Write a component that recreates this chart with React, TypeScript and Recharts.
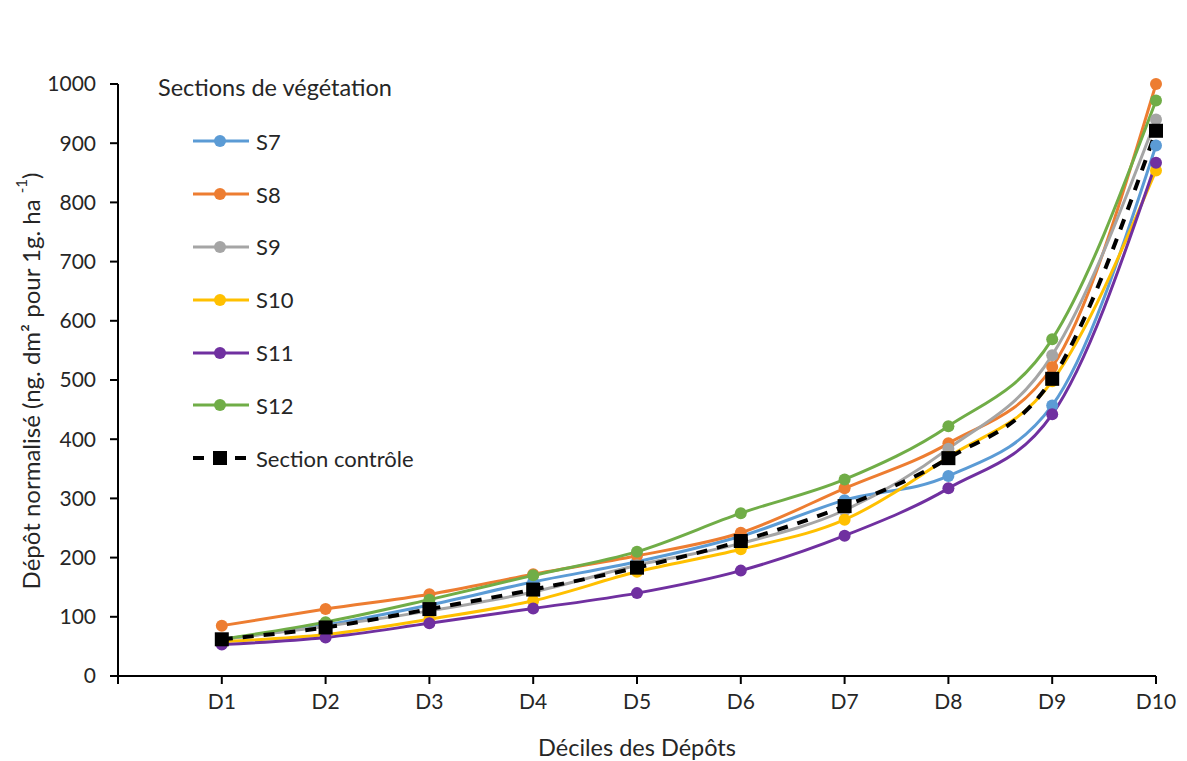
import React from "react";
import { LineChart, Line, XAxis, YAxis, Legend } from "recharts";

const deciles = ["D1", "D2", "D3", "D4", "D5", "D6", "D7", "D8", "D9", "D10"];

const s7 = [62, 86, 120, 159, 193, 236, 297, 338, 457, 896];
const s8 = [85, 113, 138, 172, 203, 242, 317, 393, 522, 1000];
const s9 = [62, 84, 110, 142, 187, 224, 280, 384, 542, 940];
const s10 = [58, 70, 96, 127, 176, 214, 264, 370, 498, 854];
const s11 = [53, 65, 89, 114, 140, 178, 237, 317, 442, 867];
const s12 = [62, 91, 129, 170, 210, 275, 332, 422, 569, 972];
const controle = [62, 82, 113, 146, 183, 228, 287, 368, 502, 921];

const yTicks = [0, 100, 200, 300, 400, 500, 600, 700, 800, 900, 1000];

const series = [
  { key: "S7", values: s7, color: "#5B9BD5" },
  { key: "S8", values: s8, color: "#ED7D31" },
  { key: "S9", values: s9, color: "#A5A5A5" },
  { key: "S10", values: s10, color: "#FFC000" },
  { key: "S11", values: s11, color: "#7030A0" },
  { key: "S12", values: s12, color: "#70AD47" },
];

const data = deciles.map((d, i) => {
  const row: Record<string, number | string> = { x: i + 1, name: d };
  series.forEach((s) => (row[s.key] = s.values[i]));
  row["Section contrôle"] = controle[i];
  return row;
});

const FONT = "Lato, 'Open Sans', sans-serif";
const TEXT = "#262626";

const SquareDot = (props: any) => {
  const { cx, cy } = props;
  if (cx == null || cy == null) return null;
  return <rect x={cx - 7} y={cy - 7} width={14} height={14} fill="#000" />;
};

const ROW = 52.8;

const LegendBox = () => (
  <div style={{ fontFamily: FONT, fontSize: 22, color: TEXT, width: 320 }}>
    <div style={{ height: 36, lineHeight: "36px", fontSize: 23.5 }}>Sections de végétation</div>
    <div style={{ height: 10 }} />
    {series.map((s) => (
      <div key={s.key} style={{ display: "flex", alignItems: "center", height: ROW }}>
        <svg width={100} height={20} style={{ overflow: "visible" }}>
          <line x1={35} x2={91} y1={10} y2={10} stroke={s.color} strokeWidth={3} />
          <circle cx={62} cy={10} r={6} fill={s.color} />
        </svg>
        <span style={{ marginLeft: -2 }}>{s.key}</span>
      </div>
    ))}
    <div style={{ display: "flex", alignItems: "center", height: ROW }}>
      <svg width={100} height={20} style={{ overflow: "visible" }}>
        <line x1={35} x2={91} y1={10} y2={10} stroke="#000" strokeWidth={4} strokeDasharray="11 10" />
        <rect x={55} y={3} width={14} height={14} fill="#000" />
      </svg>
      <span style={{ marginLeft: -2 }}>Section contrôle</span>
    </div>
  </div>
);

const YLabel = () => (
  <text
    x={30}
    y={381}
    transform="rotate(-90 30 381)"
    textAnchor="middle"
    dominantBaseline="central"
    fontFamily={FONT}
    fontSize={24}
    fill={TEXT}
  >
    <tspan>Dépôt normalisé (ng. dm² pour 1g. ha </tspan>
    <tspan fontSize={15} dy={-9}>-1</tspan>
    <tspan dy={9}>)</tspan>
  </text>
);

const XLabel = () => (
  <text
    x={637}
    y={747}
    textAnchor="middle"
    dominantBaseline="central"
    fontFamily={FONT}
    fontSize={23.5}
    fill={TEXT}
  >
    Déciles des Dépôts
  </text>
);

export default function App() {
  return (
    <div style={{ position: "absolute", left: 0, top: 0, background: "#fff" }}>
      <LineChart
        width={1187}
        height={761}
        data={data}
        margin={{ top: 84, right: 31, left: 38, bottom: 40 }}
      >
        <XAxis
          dataKey="x"
          type="number"
          domain={[0, 10]}
          ticks={[0, 1, 2, 3, 4, 5, 6, 7, 8, 9, 10]}
          tickFormatter={(v) => (v === 0 ? "" : deciles[v - 1])}
          interval={0}
          height={45}
          tickSize={8}
          tickMargin={10}
          axisLine={{ stroke: "#000", strokeWidth: 2 }}
          tickLine={{ stroke: "#000", strokeWidth: 2 }}
          tick={{ fill: TEXT, fontSize: 21, fontFamily: FONT }}
          label={{ content: XLabel }}
        />
        <YAxis
          domain={[0, 1000]}
          ticks={yTicks}
          interval={0}
          width={80}
          tickSize={8}
          tickMargin={14}
          axisLine={{ stroke: "#000", strokeWidth: 2 }}
          tickLine={{ stroke: "#000", strokeWidth: 2 }}
          tick={{ fill: TEXT, fontSize: 21, fontFamily: FONT }}
          label={{ content: YLabel }}
        />
        <Legend
          layout="vertical"
          align="center"
          verticalAlign="middle"
          content={() => <LegendBox />}
          wrapperStyle={{ top: 69, left: 158, width: 320 }}
        />
        {series.map((s) => (
          <Line
            key={s.key}
            type="monotone"
            dataKey={s.key}
            stroke={s.color}
            strokeWidth={3}
            dot={{ r: 6, fill: s.color, stroke: "none" }}
            isAnimationActive={false}
          />
        ))}
        <Line
          type="monotone"
          dataKey="Section contrôle"
          stroke="#000"
          strokeWidth={4}
          strokeDasharray="11 10"
          dot={<SquareDot />}
          isAnimationActive={false}
        />
      </LineChart>
    </div>
  );
}
